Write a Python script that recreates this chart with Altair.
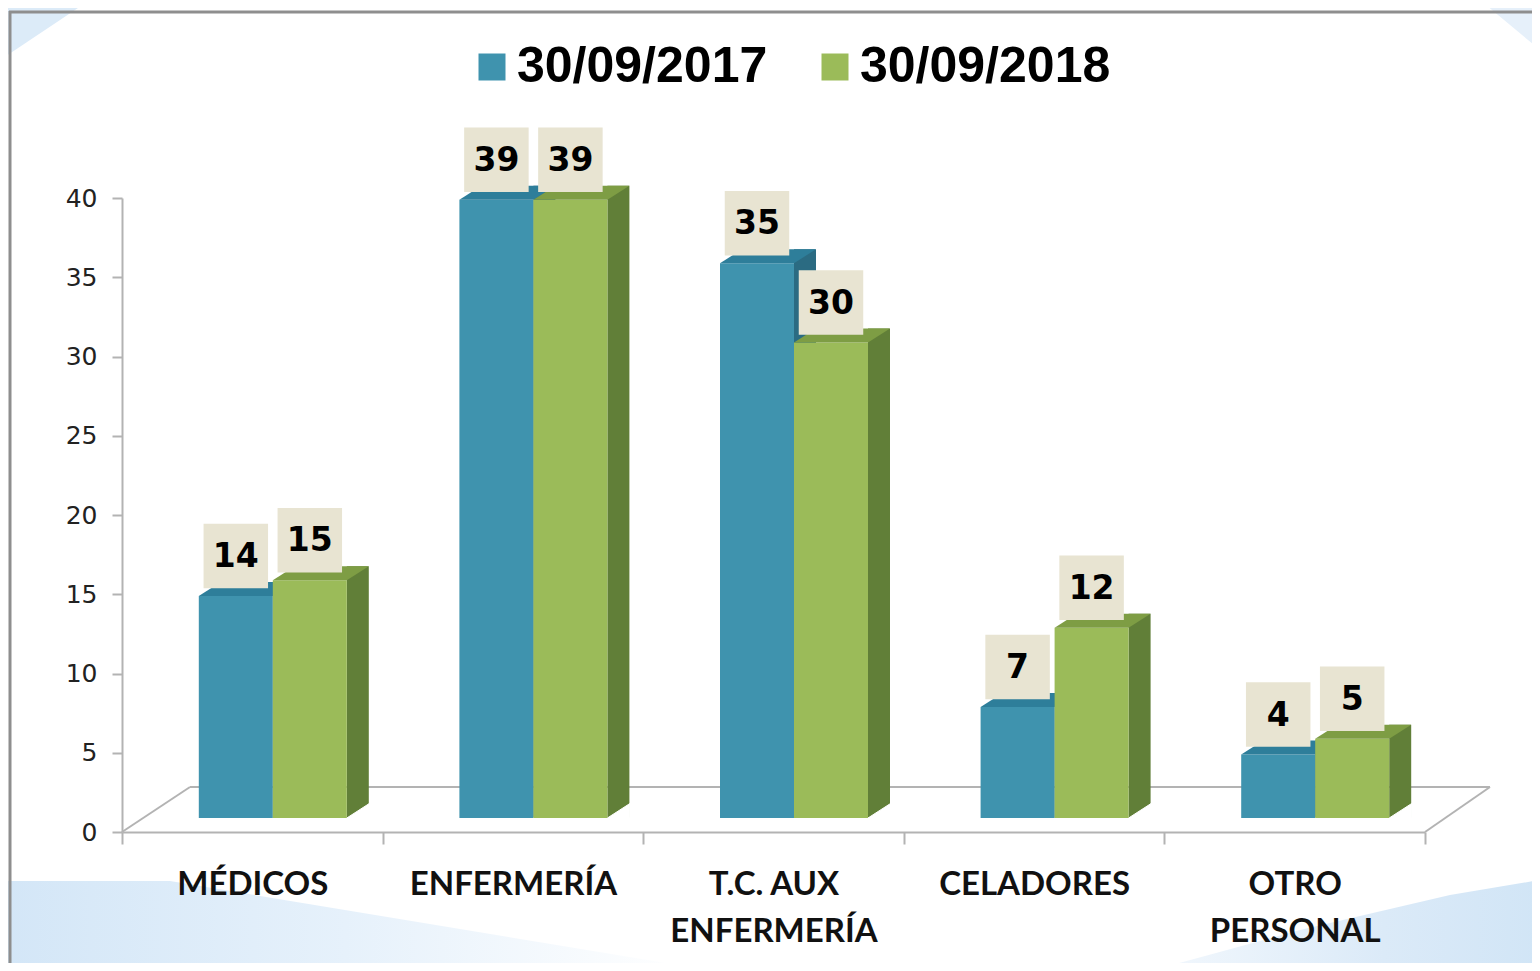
import altair as alt
import pandas as pd

# ---------------- data ----------------
categories = ["MÉDICOS", "ENFERMERÍA", "T.C. AUX ENFERMERÍA", "CELADORES", "OTRO PERSONAL"]
series = ["30/09/2017", "30/09/2018"]
values_2017 = [14, 39, 35, 7, 4]
values_2018 = [15, 39, 30, 12, 5]

rows = []
for s, vals in zip(series, [values_2017, values_2018]):
    for c, v in zip(categories, vals):
        rows.append({"cat": c, "series": s, "value": v, "base": 0})
df = pd.DataFrame(rows)

# ---------------- styling ----------------
front_colors = ["#3f93ae", "#9bbb59"]
top_colors = ["#2e7e9a", "#7e9d44"]
side_colors = ["#2b6b82", "#617f38"]
box_color = "#e8e4d2"
grey = "#b3b3b3"
frame_grey = "#8e8e8e"

W, H = 1303, 634
BW = 74            # front face width (px)
x_offsets = [-16.5, 57.5]   # centre of the front faces relative to band centre
LIFT = 14          # bars sit a bit behind the front edge of the floor

label_expr = ("datum.label == 'T.C. AUX ENFERMERÍA' ? ['T.C. AUX', 'ENFERMERÍA'] : "
              "datum.label == 'OTRO PERSONAL' ? ['OTRO', 'PERSONAL'] : datum.label")

x_axis = alt.Axis(title=None, labelAngle=0, labelFont="Lato", labelFontWeight="bold",
                  labelFontSize=33, labelColor="#111111", labelLineHeight=47,
                  labelPadding=24, labelLimit=500, tickSize=12, tickColor=grey,
                  tickWidth=2, domainColor=grey, domainWidth=2, tickBand="extent",
                  labelExpr=label_expr, grid=False, zindex=1)
y_axis = alt.Axis(title=None, values=list(range(0, 41, 5)), labelFont="DejaVu Sans",
                  labelFontSize=25, labelColor="#222222", tickSize=10, tickColor=grey,
                  tickWidth=2, domainColor=grey, domainWidth=2, labelPadding=15,
                  grid=False, zindex=1)

xenc = alt.X("cat:N", sort=categories, scale=alt.Scale(paddingInner=0, paddingOuter=0),
             axis=x_axis)


def yenc(field):
    return alt.Y(f"{field}:Q", scale=alt.Scale(domain=[0, 40], nice=False), axis=y_axis)


legend = alt.Legend(title=None, orient="none", legendX=345, legendY=-156,
                    direction="horizontal", labelFont="Liberation Sans",
                    labelFontWeight="bold", labelFontSize=50, labelColor="#000000",
                    symbolType="square", symbolSize=729, symbolStrokeWidth=0,
                    symbolOpacity=1, labelOffset=0, columnPadding=42, labelLimit=400)

# custom symbol paths (unit = sqrt(size)/2 = 50px)
top_path = "M -0.74 0 L 0.74 0 L 1.18 -0.28 L -0.30 -0.28 Z"
tri_path = "M 0.74 0 L 1.19 0 L 1.19 -0.29 Z"

base = alt.Chart(df)
one = alt.Chart(pd.DataFrame({"a": [0]}))

layers = []

# ---- slide decoration (unit = 100px) ----
bl_path = "M -3.5 -0.45 L -1.8 -0.45 L 3.4 0.41 L -3.5 0.41 Z"
br_path = "M -1.9 0.5 L -0.4 0.09 L 1.1 -0.26 L 2.0 -0.41 L 2.0 0.5 Z"
tl_path = "M -0.4 -0.3 L 0.5 -0.3 L -0.4 0.3 Z"
tr_path = "M -0.3 -0.25 L 0.3 -0.25 L 0.3 0.25 Z"
grad_l = alt.LinearGradient(gradient="linear", x1=0, y1=0, x2=1, y2=0,
                            stops=[alt.GradientStop(color="#d3e6f7", offset=0),
                                   alt.GradientStop(color="#e6f1fb", offset=0.5),
                                   alt.GradientStop(color="#ffffff", offset=1)])
grad_r = alt.LinearGradient(gradient="linear", x1=0, y1=0, x2=1, y2=0,
                            stops=[alt.GradientStop(color="#f3f8fd", offset=0),
                                   alt.GradientStop(color="#dbeaf8", offset=0.6),
                                   alt.GradientStop(color="#d1e5f6", offset=1)])
layers.append(one.mark_point(shape=bl_path, size=40000, filled=True, fill=grad_l,
                             strokeWidth=0, opacity=1).encode(
    x=alt.value(228), y=alt.value(728)))
layers.append(one.mark_point(shape=br_path, size=40000, filled=True, fill=grad_r,
                             strokeWidth=0, opacity=1).encode(
    x=alt.value(1218), y=alt.value(723)))
layers.append(one.mark_point(shape=tl_path, size=40000, filled=True, fill="#dcebf8",
                             strokeWidth=0, opacity=1).encode(
    x=alt.value(-82), y=alt.value(-168)))
layers.append(one.mark_point(shape=tr_path, size=40000, filled=True, fill="#e6f0fa",
                             strokeWidth=0, opacity=1).encode(
    x=alt.value(1388), y=alt.value(-173)))
# slide frame
layers.append(one.mark_rule(color=frame_grey, strokeWidth=3).encode(
    x=alt.value(-113), x2=alt.value(1420), y=alt.value(-186)))
layers.append(one.mark_rule(color=frame_grey, strokeWidth=3).encode(
    x=alt.value(-112), y=alt.value(-187), y2=alt.value(780)))

# floor (back edge + side edges)
layers.append(one.mark_rule(color=grey, strokeWidth=2).encode(
    x=alt.value(68), x2=alt.value(1368), y=alt.value(H - 45)))
layers.append(one.mark_rule(color=grey, strokeWidth=2).encode(
    x=alt.value(0), x2=alt.value(68), y=alt.value(H), y2=alt.value(H - 45)))
layers.append(one.mark_rule(color=grey, strokeWidth=2).encode(
    x=alt.value(W), x2=alt.value(W + 65), y=alt.value(H), y2=alt.value(H - 45)))

for i, s in enumerate(series):
    d = base.transform_filter(alt.datum.series == s)
    xo = x_offsets[i]
    # side face
    layers.append(d.mark_bar(width=22, xOffset=xo + BW / 2 + 11, yOffset=-LIFT - 14,
                             y2Offset=-LIFT, color=side_colors[i]).encode(
        x=xenc, y=yenc("value"), y2=alt.Y2("base:Q")))
    # white triangle cleaning the bottom of the side face
    layers.append(d.mark_point(shape=tri_path, size=10000, filled=True, fill="white",
                               stroke="white", strokeWidth=1, opacity=1,
                               xOffset=xo, yOffset=-LIFT).encode(
        x=xenc, y=yenc("base")))
    # front face
    layers.append(d.mark_bar(width=BW, xOffset=xo, yOffset=-LIFT, y2Offset=-LIFT).encode(
        x=xenc, y=yenc("value"), y2=alt.Y2("base:Q"),
        color=alt.Color("series:N", scale=alt.Scale(domain=series, range=front_colors),
                        legend=legend)))
    # top face
    layers.append(d.mark_point(shape=top_path, size=10000, filled=True,
                               fill=top_colors[i], strokeWidth=0, opacity=1,
                               xOffset=xo, yOffset=-LIFT).encode(
        x=xenc, y=yenc("value")))

for i, s in enumerate(series):
    d = base.transform_filter(alt.datum.series == s)
    xo = x_offsets[i]
    layers.append(d.mark_square(size=4160, filled=True, color=box_color, opacity=1,
                                xOffset=xo, yOffset=-54).encode(
        x=xenc, y=yenc("value")))
    layers.append(d.mark_text(font="DejaVu Sans", fontWeight="bold", fontSize=33,
                              color="#000000", align="center", baseline="middle",
                              xOffset=xo, yOffset=-53).encode(
        x=xenc, y=yenc("value"), text="value:Q"))

chart = alt.layer(*layers).properties(
    width=W, height=H,
    autosize=alt.AutoSizeParams(type="none"),
    padding={"left": 114, "top": 190, "right": 107, "bottom": 131},
    background="white",
).configure_view(stroke=None)

chart.save("out.html", embed_options={"renderer": "svg", "actions": False})
